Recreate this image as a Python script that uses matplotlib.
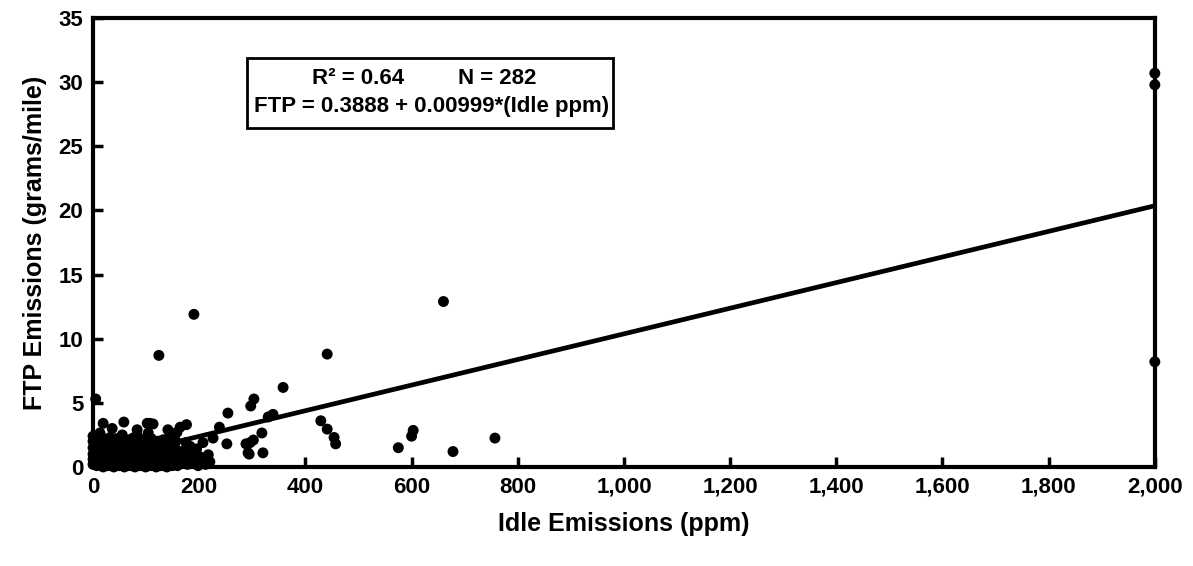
"""FTP vs idle emissions scatter with linear fit."""

import matplotlib
matplotlib.use("Agg")
import matplotlib.pyplot as plt
from matplotlib.patches import Rectangle
from matplotlib.ticker import FuncFormatter

plt.rcParams["font.family"] = ["Liberation Sans", "DejaVu Sans"]
plt.rcParams["font.weight"] = "bold"

# scattered points away from the dense cluster (ppm, g/mile)
idle_outliers = [2000, 2000, 2000, 660, 190, 124, 441, 358, 303, 297, 339, 330,
                 254, 429, 441, 454, 457, 318, 302, 288, 294, 320, 603, 600,
                 575, 678, 757, 238, 252, 226, 207, 164, 158, 217, 201, 183,
                 5, 58, 102, 113, 19, 36, 13, 83, 83, 104, 55, 141, 145, 160,
                 183, 107, 176, 296, 292]
ftp_outliers = [30.7, 29.8, 8.2, 12.9, 11.9, 8.7, 8.8, 6.2, 5.3, 4.75, 4.1, 3.9,
                4.2, 3.6, 2.95, 2.3, 1.8, 2.65, 2.1, 1.8, 1.0, 1.1, 2.85, 2.4,
                1.5, 1.2, 2.25, 3.1, 1.8, 2.25, 1.9, 3.1, 2.7, 0.95, 0.8, 1.6,
                5.3, 3.5, 3.4, 3.35, 3.4, 3.0, 2.65, 2.9, 2.5, 2.65, 2.5, 2.9, 2.6, 0.9,
                0.8, 3.4, 3.3, 1.9, 1.1]

# dense low-idle cluster
idle_cluster = [0, 0, 0, 0, 0, 0, 2, 3, 8, 10, 12, 15, 18, 20, 22, 25, 28, 30,
                32, 35, 38, 40, 42, 45, 48, 50, 52, 55, 58, 60, 62, 65, 68, 70,
                72, 75, 78, 80, 82, 85, 88, 90, 92, 95, 98, 100, 102, 105, 108,
                110, 112, 115, 118, 120, 122, 125, 128, 130, 132, 135, 138, 140,
                142, 145, 148, 150, 152, 155, 158, 160, 5, 6, 14, 16, 24, 26, 34,
                36, 44, 46, 54, 56, 64, 66, 74, 76, 84, 86, 94, 96, 104, 106, 114,
                116, 124, 126, 134, 136, 144, 146, 154, 156, 165, 168, 172, 175,
                178, 185, 190, 195, 198, 205, 212, 220,
                4, 9, 17, 21, 27, 31, 37, 41, 47, 51, 57, 61, 67, 71, 77, 81, 87,
                91, 97, 101, 107, 111, 117, 121, 127, 131, 137, 141, 147, 151, 157,
                11, 23, 33, 43, 53, 63, 73, 83, 93, 103, 113, 123, 133, 143, 153,
                7, 19, 29, 39, 49, 59, 69, 79, 89, 99, 109, 119, 129, 139, 149, 159,
                170, 180, 188, 200]
ftp_cluster = [0.2, 0.6, 1.0, 1.5, 2.0, 2.4, 0.4, 1.2, 0.3, 0.9, 1.6, 0.5, 2.1,
               1.2, 0.2, 0.8, 1.7, 0.4, 2.3, 1.1, 0.6, 1.9, 0.15, 1.4, 0.7, 2.2,
               0.3, 1.0, 1.8, 0.5, 1.3, 2.0, 0.2, 0.9, 1.6, 0.4, 2.3, 1.1, 0.7,
               1.9, 0.3, 1.4, 0.8, 2.1, 0.2, 1.2, 0.6, 1.7, 0.4, 2.2, 1.0, 0.3,
               1.5, 0.7, 2.0, 0.2, 1.1, 0.5, 1.8, 0.9, 0.3, 1.4, 2.2, 0.6, 1.0,
               1.7, 0.2, 0.8, 1.3, 0.4, 0.7, 1.8, 1.3, 2.3, 1.5, 0.1, 0.9, 2.0,
               0.5, 1.7, 1.5, 0.1, 0.7, 1.5, 1.2, 0.1, 0.5, 1.5, 1.0, 0.5, 0.1,
               1.3, 2.0, 0.8, 1.5, 0.5, 1.3, 0.1, 1.8, 0.3, 1.1, 2.0, 0.3, 1.2,
               0.7, 1.9, 0.2, 1.1, 0.4, 1.4, 0.1, 0.5, 0.2, 0.4,
               1.9, 1.0, 0.6, 1.8, 1.1, 0.7, 1.6, 1.0, 0.6, 1.6, 0.7, 1.9, 1.1,
               0.6, 1.8, 0.9, 1.6, 0.6, 1.7, 0.9, 2.0, 0.6, 1.2, 1.9, 0.9, 2.1,
               0.6, 1.6, 0.7, 1.9, 0.6,
               2.0, 2.1, 1.5, 2.2, 2.0, 2.1, 2.2, 1.9, 2.0, 2.1, 1.7, 2.0, 2.1,
               1.9, 1.5,
               0.1, 0.0, 0.1, 0.0, 0.1, 0.0, 0.1, 0.0, 0.1, 0.0, 0.1, 0.0, 0.1,
               0.0, 0.1, 0.1,
               0.9, 0.6, 1.3, 0.3]

fit_intercept = 0.3888
fit_slope = 0.00999
fit_x = [0, 2000]

fig = plt.figure(figsize=(11.93, 5.66), dpi=100)
ax = fig.add_axes([0.078, 0.175, 0.890, 0.793])

ax.scatter(idle_cluster + idle_outliers, ftp_cluster + ftp_outliers,
           s=62, color="black", edgecolors="none", zorder=3, clip_on=False)
ax.plot(fit_x, [fit_intercept + fit_slope * x for x in fit_x],
        color="black", linewidth=3.4, zorder=2)

ax.set_xlim(0, 2000)
ax.set_ylim(0, 35)
ax.set_xticks(range(0, 2001, 200))
ax.set_yticks(range(0, 36, 5))
ax.xaxis.set_major_formatter(FuncFormatter(lambda v, _: f"{int(v):,}"))
ax.tick_params(direction="in", length=7, width=2.5, labelsize=16, pad=7)
for lab in ax.get_xticklabels() + ax.get_yticklabels():
    lab.set_fontweight("bold")
for sp in ax.spines.values():
    sp.set_linewidth(3)

ax.set_xlabel("Idle Emissions (ppm)", fontsize=18, fontweight="bold", labelpad=10)
ax.set_ylabel("FTP Emissions (grams/mile)", fontsize=18, fontweight="bold", labelpad=8)

ax.add_patch(Rectangle((0.145, 0.755), 0.345, 0.156, transform=ax.transAxes,
                       fill=False, edgecolor="black", linewidth=2, zorder=4))
ax.text(0.2495, 0.866, "R² = 0.64", transform=ax.transAxes, ha="center",
        va="center", fontsize=16, fontweight="bold")
ax.text(0.381, 0.866, "N = 282", transform=ax.transAxes, ha="center",
        va="center", fontsize=16, fontweight="bold")
ax.text(0.319, 0.802, "FTP = 0.3888 + 0.00999*(Idle ppm)", transform=ax.transAxes,
        ha="center", va="center", fontsize=16, fontweight="bold")

fig.savefig("out.png", dpi=100)
